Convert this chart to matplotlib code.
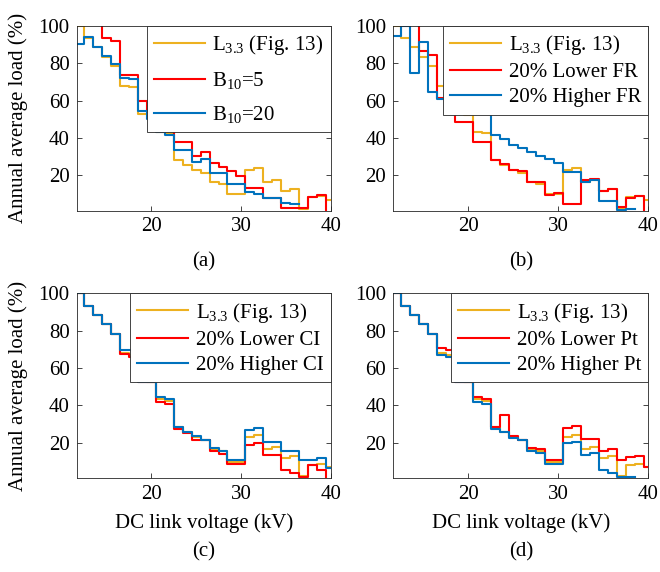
import numpy as np
import matplotlib
matplotlib.use('Agg')
import matplotlib.pyplot as plt

plt.rcParams['font.family'] = ['Liberation Serif', 'DejaVu Serif']
plt.rcParams['mathtext.fontset'] = 'custom'
plt.rcParams['mathtext.rm'] = 'Liberation Serif'
plt.rcParams['mathtext.it'] = 'Liberation Serif:italic'
plt.rcParams['mathtext.default'] = 'regular'

# bin edges of the DC link voltage (kV), one load value per bin
edges = [11.7, 12.5, 13.5, 14.5, 15.5, 16.5, 17.5, 18.5, 19.5, 20.5, 21.5,
         22.5, 23.5, 24.5, 25.5, 26.5, 27.5, 28.5, 29.5, 30.5, 31.5, 32.5,
         33.5, 34.5, 35.5, 36.5, 37.5, 38.5, 39.5, 40.0]
nan = np.nan

# reference profile L3.3 (Fig. 13), same in every panel
l33 = [100, 93.3, 88.5, 83.3, 78.4, 67.8, 67, 53, 52.5, 43.2, 42.5, 28.2, 25.6,
       22.8, 21.3, 16.6, 15.3, 9.8, 9.8, 22.8, 23.9, 16.6, 17.5, 11.5, 12.6,
       2.0, 8.2, 8.8, 7]

# (a)
b10_5 = [110, 110, 110, 93.4, 91.6, 73.8, 73.8, 60, 55, 50, 46, 37.7, 37.7,
         30.5, 32.5, 26.4, 24.6, 22.3, 19.6, 13, 13, 7.7, 7.7, 2.3, 2.3, 2.3,
         8.6, 9.5, 0]
b10_20 = [90.2, 93.9, 88.6, 83.6, 79.5, 72.3, 71.6, 54.5, 50, 43, 41.6, 33.6,
          33.6, 27.3, 28.6, 21.1, 21.1, 15.4, 15.4, 11, 10.2, 8, 8, 5.4, 4.5,
          nan, nan, nan, nan]

# (b)
fr_low = [110, 110, 110, 86.3, 84.5, 61.5, 61.5, 48.6, 48.6, 37.6, 37.6, 28.2,
          26, 22.8, 22.5, 16.6, 16.6, 9.5, 10.7, 4.6, 4.6, 17.5, 18, 11.8,
          12.9, 2.9, 7.7, 8.9, 0]
fr_high = [94.6, 100, 74.8, 91.1, 64.5, 60.7, 58, 56, 55, 54, 54, 41.5, 39.4,
           36.2, 34.4, 32.3, 30.5, 28.6, 26.4, 22, 22, 16.6, 17.5, 6.25, 6.25,
           1.4, 2, nan, nan]

# (c)
ci_low = [100, 93.2, 88.6, 83.6, 78.4, 67.3, 66, 52.5, 52.5, 41.8, 40.5, 27.5,
          25.2, 21.2, 21.2, 15.5, 14, 8.6, 8.6, 18.7, 19.6, 13.4, 13.4, 5.4,
          3.9, 1.4, 8, 5.4, 0]
ci_high = [100, 93.2, 88.6, 83.6, 78.4, 69.5, 69.5, 52.5, 52.5, 44.5, 43.6,
           28.4, 25.7, 23.6, 21.2, 17, 15.7, 10.7, 10.7, 26.8, 27.7, 20.5, 20.5,
           15.5, 15.5, 10.7, 10.7, 11.6, 6.25]

# (d)
pt_low = [100, 93.2, 88.6, 83.6, 78.4, 70.9, 69.8, 52.5, 52.5, 44.5, 43.6,
          28.4, 34.6, 23.6, 21.2, 17.3, 16.8, 10.7, 10.7, 27.7, 28.9, 21.8,
          21.8, 15.7, 16.6, 10.7, 12.1, 12.9, 7.1]
pt_high = [100, 93.2, 88.6, 83.6, 78.4, 66.8, 65.9, 52.5, 52.5, 41.8, 40.5,
           27.5, 25.7, 22.5, 21.2, 15.5, 14.5, 8.6, 8.6, 19.6, 20.5, 13.4, 14.6,
           5.4, 3.9, 1.4, 1.4, nan, nan]

panels = [
    ('(a)', [l33, b10_5, b10_20], ['L$_{3.3}$ (Fig. 13)', 'B$_{10}$=5', 'B$_{10}$=20']),
    ('(b)', [l33, fr_low, fr_high], ['L$_{3.3}$ (Fig. 13)', '20% Lower FR', '20% Higher FR']),
    ('(c)', [l33, ci_low, ci_high], ['L$_{3.3}$ (Fig. 13)', '20% Lower CI', '20% Higher CI']),
    ('(d)', [l33, pt_low, pt_high], ['L$_{3.3}$ (Fig. 13)', '20% Lower Pt', '20% Higher Pt']),
]
colors = ['#EDB120', '#FF0000', '#0072BD']
spacing = [0.62, 0.27, 0.27, 0.27]

W, H = 660, 572
fig = plt.figure(figsize=(6.6, 5.72), dpi=100)

# axes boxes in pixels: left, top, right, bottom
boxes = [(76.7, 25.7, 330.7, 210.5), (393.3, 25.7, 648.3, 210.5),
         (76.7, 293.3, 330.7, 477.7), (393.3, 293.3, 648.3, 477.7)]

fs = 15
xs = np.repeat(edges, 2)[1:-1]
for i, (tag, series, labels) in enumerate(panels):
    l, t, r, b = boxes[i]
    ax = fig.add_axes([l / W, 1 - b / H, (r - l) / W, (b - t) / H])
    for vals, c, lab in zip(series, colors, labels):
        ax.plot(xs, np.repeat(vals, 2), color=c, lw=1.5, label=lab)
    ax.set_xlim(11.7, 40)
    ax.set_ylim(1.2, 100)
    ax.set_xticks([20, 30, 40])
    ax.set_yticks([20, 40, 60, 80, 100])
    ax.tick_params(direction='in', top=True, right=True, length=3.5,
                   width=0.6, color='0.15', labelsize=fs, pad=5)
    for s in ax.spines.values():
        s.set_linewidth(0.6)
        s.set_color('0.15')
    leg = ax.legend(loc='upper right', bbox_to_anchor=(1, 1), borderaxespad=0,
                    fontsize=fs, handlelength=2.45, handletextpad=0.35,
                    labelspacing=spacing[i], borderpad=0.35, fancybox=False,
                    framealpha=1, edgecolor='0.15')
    leg.get_frame().set_linewidth(0.6)
    cx = (l + r) / 2 / W
    if i in (0, 1):
        fig.text(cx, 1 - 262 / H, tag, ha='center', va='center', fontsize=fs)
    else:
        fig.text(cx, 1 - 523 / H, 'DC link voltage (kV)', ha='center',
                 va='center', fontsize=fs)
        fig.text(cx, 1 - 552 / H, tag, ha='center', va='center', fontsize=fs)
    if i in (0, 2):
        fig.text(18 / W, 1 - (t + b) / 2 / H, 'Annual average load (%)',
                 rotation=90, ha='center', va='center', fontsize=fs)

fig.savefig('out.png', dpi=100)
